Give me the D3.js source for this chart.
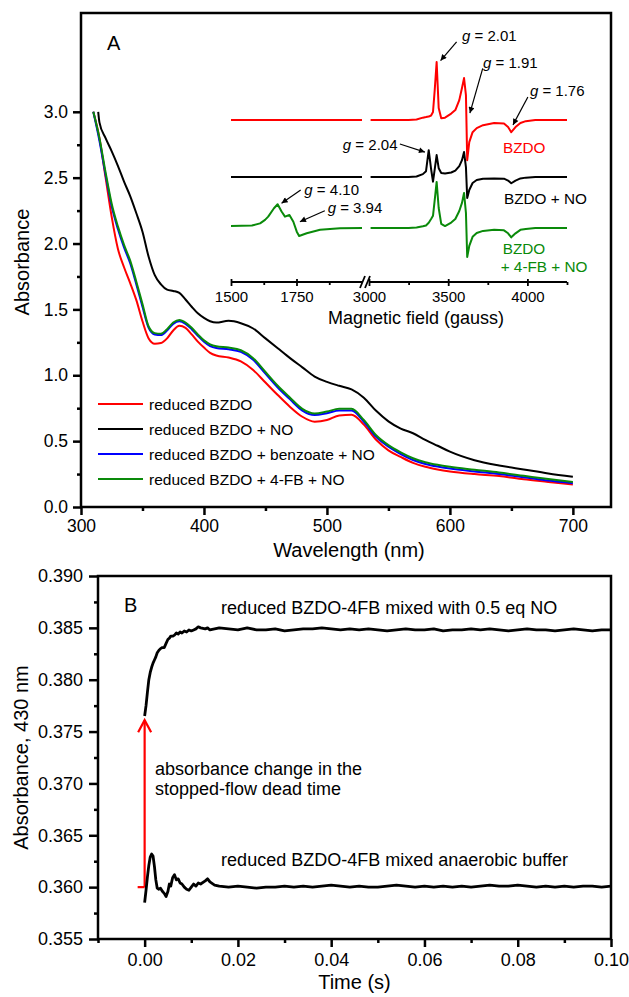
<!DOCTYPE html>
<html>
<head>
<meta charset="utf-8">
<script src="https://cdn.jsdelivr.net/npm/d3@7"></script>
<style>
  body { margin: 0; background: #fff; }
  text { font-family: "Liberation Sans", Arial, sans-serif; }
</style>
</head>
<body>
<div id="chart"></div>
<script>
// ---------- panel A : UV-vis spectra ----------
const wavelengths = [310, 315, 320, 325, 330, 335, 340, 345, 350, 355, 360, 365, 370, 375, 380, 385, 390, 395, 400, 405,
                     410, 420, 430, 440, 450, 460, 470, 480, 490, 500, 510, 520, 530, 540, 550, 560, 570, 580, 590, 600,
                     620, 640, 660, 680, 700];
const absReduced = [3.00, 2.80, 2.50, 2.20, 1.96, 1.82, 1.70, 1.57, 1.41, 1.28, 1.24, 1.245, 1.28, 1.34, 1.375, 1.36, 1.31, 1.255, 1.21, 1.17,
                    1.15, 1.135, 1.105, 1.04, 0.945, 0.85, 0.76, 0.685, 0.648, 0.66, 0.695, 0.70, 0.625, 0.51, 0.43, 0.38, 0.335, 0.305, 0.285, 0.27,
                    0.25, 0.235, 0.21, 0.19, 0.17];
const absBenzoate = [3.00, 2.78, 2.52, 2.28, 2.11, 1.97, 1.85, 1.69, 1.52, 1.36, 1.31, 1.305, 1.34, 1.39, 1.41, 1.39, 1.35, 1.30, 1.255, 1.222,
                     1.207, 1.197, 1.177, 1.117, 1.012, 0.907, 0.817, 0.732, 0.698, 0.712, 0.732, 0.732, 0.647, 0.532, 0.457, 0.402, 0.357, 0.327, 0.307, 0.292,
                     0.27, 0.25, 0.226, 0.201, 0.181];
const absFB = [3.00, 2.80, 2.54, 2.30, 2.13, 1.99, 1.87, 1.71, 1.54, 1.37, 1.32, 1.315, 1.35, 1.40, 1.42, 1.40, 1.36, 1.31, 1.265, 1.235,
               1.22, 1.21, 1.19, 1.13, 1.025, 0.92, 0.83, 0.745, 0.71, 0.725, 0.745, 0.745, 0.66, 0.545, 0.47, 0.415, 0.37, 0.34, 0.32, 0.305,
               0.283, 0.262, 0.237, 0.212, 0.19];
// the +NO spectrum starts a little later
const wavelengthsNO = [314, 315, 320, 325, 330, 335, 340, 345, 350, 355, 360, 365, 370, 375, 380, 385, 390, 395, 400, 405,
                       410, 420, 430, 440, 450, 460, 470, 480, 490, 500, 510, 520, 530, 540, 550, 560, 570, 580, 590, 600,
                       620, 640, 660, 680, 700];
const absNO = [3.00, 2.92, 2.80, 2.70, 2.59, 2.47, 2.36, 2.23, 2.09, 1.90, 1.76, 1.69, 1.65, 1.64, 1.625, 1.575, 1.52, 1.47, 1.435, 1.41,
               1.40, 1.413, 1.395, 1.355, 1.28, 1.205, 1.13, 1.06, 0.99, 0.95, 0.92, 0.893, 0.83, 0.73, 0.65, 0.595, 0.56, 0.51, 0.465, 0.42,
               0.355, 0.315, 0.285, 0.255, 0.23];
const legendLabels = ['reduced BZDO', 'reduced BZDO + NO', 'reduced BZDO + benzoate + NO', 'reduced BZDO + 4-FB + NO'];
const wavelengthTicks = [300, 400, 500, 600, 700];
const wavelengthMinor = [350, 450, 550, 650];
const absTicks = [0, 0.5, 1.0, 1.5, 2.0, 2.5, 3.0];
const absMinor = [0.25, 0.75, 1.25, 1.75, 2.25, 2.75];

// ---------- inset : EPR spectra (broken field axis) ----------
const fieldLow = [1500, 1580, 1611, 1630, 1642, 1664, 1678, 1693, 1706, 1723, 1738, 1751, 1760, 1789, 1840, 1916, 2000];
const eprFBLow = [0.7, 0.9, 1.7, 3.0, 4.2, 7.3, 8.8, 6.1, 4.2, 4.8, 2.3, -1.4, -3.0, -2.0, -0.7, -0.1, 0];
const fieldLowFlat = [1500, 2000];
const eprFlatLow = [0, 0];
const fieldHigh = [3010, 3250, 3300, 3340, 3360, 3377, 3392, 3404, 3415, 3427, 3440, 3456, 3480, 3519, 3545, 3570, 3587,
                   3600, 3612, 3620, 3633, 3654, 3680, 3720, 3790, 3852, 3878, 3898, 3925, 3956, 3990, 4050, 4250];
const eprBZDO = [0, 0, 0.2, 0.9, 1.1, 1.3, 1.7, 3.0, 11.2, 21.6, 4.5, 0.7, 0.9, 2.4, 3.7, 7.4, 11.9,
                 15.6, 9.3, -14.9, -8.2, -4.5, -3.0, -1.9, -1.1, -1.3, -2.6, -4.5, -2.6, -1.1, -0.4, 0, 0];
const eprNO = [0, 0, 0.2, 1.1, 2.2, 10.0, 3.0, -1.7, 3.0, 8.2, 3.3, 1.5, 1.3, 1.7, 2.4, 4.1, 6.3,
               9.3, 3.7, -7.8, -4.8, -2.2, -1.1, -0.6, -0.5, -0.6, -1.3, -2.3, -1.3, -0.5, -0.2, 0, 0];
const eprFB = [0, 0, 0.2, 0.6, 0.9, 1.9, 3.3, 4.5, 10.4, 17.1, 7.4, 1.5, 0.7, 2.0, 3.3, 6.3, 9.3,
               13.0, 5.6, -10.8, -6.7, -3.3, -1.9, -1.1, -0.7, -0.9, -2.0, -3.5, -2.0, -0.7, -0.4, 0, 0];
const eprOffsets = [60.2, 39.0, 20.1];   // BZDO, BZDO + NO, BZDO + 4-FB + NO
const fieldTicksLow = [1500, 1750];
const fieldMinorLow = [1625, 1875];
const fieldTicksHigh = [3000, 3500, 4000];
const fieldMinorHigh = [3250, 3750, 4250];

// ---------- panel B : stopped-flow traces at 430 nm ----------
const times = [0, 0.0003, 0.0006, 0.0009, 0.0012, 0.0015, 0.0018, 0.0021, 0.0024, 0.0027, 0.0030, 0.0034, 0.0038, 0.0042,
               0.0046, 0.0050, 0.0053, 0.0056, 0.0060, 0.0064, 0.0068, 0.0072, 0.0076, 0.0080, 0.0085, 0.0090, 0.0095,
               0.0100, 0.0105, 0.0110, 0.0115, 0.0120, 0.0130, 0.0135, 0.0140, 0.0150, 0.0160,
               0.018, 0.020, 0.022, 0.024, 0.026, 0.028, 0.030, 0.032, 0.034, 0.036, 0.038, 0.040, 0.042, 0.044,
               0.046, 0.048, 0.050, 0.052, 0.054, 0.056, 0.058, 0.060, 0.062, 0.064, 0.066, 0.068, 0.070, 0.072,
               0.074, 0.076, 0.078, 0.080, 0.082, 0.084, 0.086, 0.088, 0.090, 0.092, 0.094, 0.096, 0.098, 0.100];
const absWithNO = [0.3765, 0.3775, 0.3788, 0.3800, 0.3807, 0.3812, 0.3816, 0.3819, 0.3822, 0.3826, 0.3828, 0.3830, 0.3831, 0.3831,
                   0.3835, 0.3839, 0.3840, 0.3842, 0.3842, 0.3843, 0.3845, 0.3844, 0.3846, 0.3845, 0.3847, 0.3846, 0.3848,
                   0.3847, 0.3848, 0.3849, 0.3851, 0.3850, 0.3849, 0.3850, 0.3848, 0.3849, 0.3850,
                   0.3849, 0.3848, 0.3850, 0.3848, 0.3848, 0.3849, 0.3847, 0.3848, 0.3849, 0.3849, 0.3850, 0.3849, 0.3848, 0.3849,
                   0.3848, 0.3849, 0.3848, 0.3847, 0.3848, 0.3849, 0.3848, 0.3848, 0.3849, 0.3847, 0.3848, 0.3848, 0.3849, 0.3848,
                   0.3849, 0.3848, 0.3847, 0.3848, 0.3849, 0.3848, 0.3848, 0.3847, 0.3848, 0.3849, 0.3848, 0.3847, 0.3848, 0.3848];
const absBuffer = [0.3585, 0.3597, 0.3610, 0.3621, 0.3629, 0.3632, 0.3630, 0.3620, 0.3607, 0.3599, 0.3598, 0.3599, 0.3596, 0.3594,
                   0.3591, 0.3596, 0.3603, 0.3601, 0.3609, 0.3612, 0.3607, 0.3608, 0.3604, 0.3603, 0.3600, 0.3598, 0.3597,
                   0.3600, 0.3603, 0.3601, 0.3604, 0.3603, 0.3606, 0.3608, 0.3605, 0.3602, 0.3601,
                   0.3600, 0.3601, 0.3600, 0.3599, 0.3600, 0.3600, 0.3601, 0.3600, 0.3601, 0.3600, 0.3601, 0.3602, 0.3601, 0.3600,
                   0.3601, 0.3600, 0.3600, 0.3601, 0.3602, 0.3601, 0.3600, 0.3601, 0.3600, 0.3601, 0.3600, 0.3601, 0.3600, 0.3601,
                   0.3602, 0.3601, 0.3601, 0.3602, 0.3601, 0.3600, 0.3601, 0.3600, 0.3601, 0.3600, 0.3601, 0.3601, 0.3600, 0.3601];
const deadTimeStart = 0.3600;   // absorbance before mixing
const deadTimeEnd = 0.3761;     // first observed point with NO
const timeTicks = [0.00, 0.02, 0.04, 0.06, 0.08, 0.10];
const timeMinor = [-0.01, 0.01, 0.03, 0.05, 0.07, 0.09];
const abs430Ticks = [0.355, 0.360, 0.365, 0.370, 0.375, 0.380, 0.385, 0.390];
const abs430Minor = [0.3575, 0.3625, 0.3675, 0.3725, 0.3775, 0.3825, 0.3875];

const FONT = '"Liberation Sans", Arial, sans-serif';
const width = 629, height = 997;

let svg = d3.select('#chart')
            .append('svg')
            .attr('width', width)
            .attr('height', height)
            .style('background', 'white');

// arrowhead used by the g-value labels
svg.append('defs').append('marker')
    .attr('id', 'head')
    .attr('viewBox', '0 0 10 10')
    .attr('refX', 10).attr('refY', 5)
    .attr('markerWidth', 8).attr('markerHeight', 6)
    .attr('markerUnits', 'userSpaceOnUse')
    .attr('orient', 'auto')
    .append('path').attr('d', 'M0,0 L10,5 L0,10 z').attr('fill', '#000');

// common axis look
function styleAxis(g, size, width) {
    g.select('.domain').remove();
    g.selectAll('line').attr('stroke', '#000').attr('stroke-width', width);
    g.selectAll('text').attr('fill', '#000').style('font-size', size + 'px').style('font-family', FONT);
}

// ================= panel A =================
let mA = {top: 13, bottom: 507, left: 81, right: 611};

let xA = d3.scaleLinear().domain([300, 731]).range([mA.left, mA.right]);
let yA = d3.scaleLinear().domain([0, 3.75]).range([mA.bottom, mA.top]);

svg.append('g').attr('transform', `translate(0, ${mA.bottom})`)
    .call(d3.axisBottom(xA).tickValues(wavelengthTicks).tickSize(8).tickPadding(5).tickFormat(d3.format('d')))
    .call(g => styleAxis(g, 17.5, 2.5));
svg.append('g').attr('transform', `translate(0, ${mA.bottom})`)
    .call(d3.axisBottom(xA).tickValues(wavelengthMinor).tickSize(4).tickFormat(''))
    .call(g => styleAxis(g, 17.5, 2.5));
svg.append('g').attr('transform', `translate(${mA.left}, 0)`)
    .call(d3.axisLeft(yA).tickValues(absTicks).tickSize(8).tickPadding(5).tickFormat(d3.format('.1f')))
    .call(g => styleAxis(g, 17.5, 2.5));
svg.append('g').attr('transform', `translate(${mA.left}, 0)`)
    .call(d3.axisLeft(yA).tickValues(absMinor).tickSize(4).tickFormat(''))
    .call(g => styleAxis(g, 17.5, 2.5));

svg.append('rect')
    .attr('x', mA.left).attr('y', mA.top)
    .attr('width', mA.right - mA.left).attr('height', mA.bottom - mA.top)
    .attr('fill', 'none').attr('stroke', '#000').attr('stroke-width', 2.5);

// axis titles
svg.append('text')
    .attr('x', (mA.left + mA.right) / 2 + 3).attr('y', 557)
    .attr('text-anchor', 'middle').style('font-size', '20px')
    .text('Wavelength (nm)');
svg.append('text')
    .attr('transform', 'rotate(-90)')
    .attr('x', -262).attr('y', 29)
    .attr('text-anchor', 'middle').style('font-size', '20px')
    .text('Absorbance');
svg.append('text')
    .attr('x', 107).attr('y', 50)
    .style('font-size', '20px')
    .text('A');

// spectra (smooth through the read-off points)
let lineA = d3.line().curve(d3.curveMonotoneX).x(d => xA(d[0])).y(d => yA(d[1]));
let spectra = [
    {wl: wavelengthsNO, abs: absNO, color: '#000000'},
    {wl: wavelengths, abs: absReduced, color: '#ff0000'},
    {wl: wavelengths, abs: absBenzoate, color: '#0000ff'},
    {wl: wavelengths, abs: absFB, color: '#0a8a0a'}
];
spectra.forEach(function(s) {
    svg.append('path')
        .datum(d3.zip(s.wl, s.abs))
        .attr('d', lineA)
        .attr('fill', 'none')
        .attr('stroke', s.color)
        .attr('stroke-width', 2)
        .attr('stroke-linejoin', 'round');
});

// legend
let legendColors = ['#ff0000', '#000000', '#0000ff', '#0a8a0a'];
let legend = svg.append('g').attr('transform', 'translate(98, 404)');
let legendItem = legend.selectAll('g')
    .data(legendLabels)
    .enter()
    .append('g')
    .attr('transform', (d, i) => `translate(0, ${i * 25})`);
legendItem.append('line')
    .attr('x1', 0).attr('x2', 45).attr('y1', 0).attr('y2', 0)
    .attr('stroke', (d, i) => legendColors[i]).attr('stroke-width', 2);
legendItem.append('text')
    .attr('x', 51).attr('y', 6)
    .style('font-size', '15.5px')
    .text(d => d);

// ================= inset: EPR =================
let xLow = d3.scaleLinear().domain([1500, 2000]).range([231, 362]);
let xHigh = d3.scaleLinear().domain([3000, 4250]).range([369, 567]);
let yE = d3.scaleLinear().domain([0, 100]).range([282, 13]);
let axisY = yE(0);

function insetAxis(scale, major, minor) {
    svg.append('line')
        .attr('x1', scale.range()[0]).attr('x2', scale.range()[1])
        .attr('y1', axisY).attr('y2', axisY)
        .attr('stroke', '#000').attr('stroke-width', 1.8);
    svg.append('g').attr('transform', `translate(0, ${axisY})`)
        .call(d3.axisBottom(scale).tickValues(major).tickSize(4).tickPadding(5).tickFormat(d3.format('d')))
        .call(g => styleAxis(g, 15, 1.8))
        .call(g => g.selectAll('line').attr('y1', -3));
    svg.append('g').attr('transform', `translate(0, ${axisY})`)
        .call(d3.axisBottom(scale).tickValues(minor).tickSize(3).tickFormat(''))
        .call(g => styleAxis(g, 15, 1.8));
}
insetAxis(xLow, fieldTicksLow, fieldMinorLow);
insetAxis(xHigh, fieldTicksHigh, fieldMinorHigh);

// axis break marks
let gapMid = (xLow(2000) + xHigh(3000)) / 2;
[-3, 2].forEach(function(dx) {
    svg.append('line')
        .attr('x1', gapMid + dx - 2.5).attr('y1', axisY + 6)
        .attr('x2', gapMid + dx + 2.5).attr('y2', axisY - 6)
        .attr('stroke', '#000').attr('stroke-width', 1.8);
});

svg.append('text')
    .attr('x', 416).attr('y', 323.5)
    .attr('text-anchor', 'middle').style('font-size', '18px')
    .text('Magnetic field (gauss)');

let eprColors = ['#ff0000', '#000000', '#0a8a0a'];
let eprHigh = [eprBZDO, eprNO, eprFB];
let eprLow = [[fieldLowFlat, eprFlatLow], [fieldLowFlat, eprFlatLow], [fieldLow, eprFBLow]];
eprHigh.forEach(function(sig, i) {
    let off = eprOffsets[i];
    let lineLow = d3.line().x(d => xLow(d[0])).y(d => yE(d[1] + off));
    let lineHigh = d3.line().x(d => xHigh(d[0])).y(d => yE(d[1] + off));
    svg.append('path')
        .datum(d3.zip(eprLow[i][0], eprLow[i][1]))
        .attr('d', lineLow)
        .attr('fill', 'none').attr('stroke', eprColors[i]).attr('stroke-width', 2)
        .attr('stroke-linejoin', 'round');
    svg.append('path')
        .datum(d3.zip(fieldHigh, sig))
        .attr('d', lineHigh)
        .attr('fill', 'none').attr('stroke', eprColors[i]).attr('stroke-width', 2)
        .attr('stroke-linejoin', 'round');
});

// g-value labels (anchored in field / intensity units)
let gLabels = [
    {g: '2.01', f: 3587, v: 89.7, tail: [3553, 89.3], head: [3452, 82.3]},
    {g: '1.91', f: 3720, v: 79.7, tail: [3718, 79.4], head: [3637, 62.8]},
    {g: '1.76', f: 4016, v: 69.0, tail: [4003, 68.8], head: [3909, 58.4]},
    {g: '2.04', f: 1927, v: 48.9, tail: [3195, 51.3], head: [3353, 48.3]},
    {g: '4.10', f: 1780, v: 32.3, tail: [1766, 34.2], head: [1693, 29.3]},
    {g: '3.94', f: 1869, v: 25.5, tail: [1858, 26.5], head: [1763, 22.4]}
];
let xField = f => (f >= 2500 ? xHigh(f) : xLow(f));
gLabels.forEach(function(l) {
    let t = svg.append('text')
        .attr('x', xField(l.f)).attr('y', yE(l.v))
        .style('font-size', '15px');
    t.append('tspan').style('font-style', 'italic').text('g');
    t.append('tspan').text(' = ' + l.g);
    svg.append('line')
        .attr('x1', xField(l.tail[0])).attr('y1', yE(l.tail[1]))
        .attr('x2', xField(l.head[0])).attr('y2', yE(l.head[1]))
        .attr('stroke', '#000').attr('stroke-width', 1.2)
        .attr('marker-end', 'url(#head)');
});

let sampleLabels = [
    {lines: ['BZDO'], f: 3846, v: 48.1, color: '#ff0000'},
    {lines: ['BZDO + NO'], f: 3852, v: 29.0, color: '#000000'},
    {lines: ['BZDO', '+ 4-FB + NO'], f: 3844, v: 10.4, color: '#0a8a0a'}
];
sampleLabels.forEach(function(l) {
    let t = svg.append('text')
        .attr('x', xHigh(l.f)).attr('y', yE(l.v))
        .attr('fill', l.color)
        .style('font-size', '15.3px');
    l.lines.forEach(function(s, i) {
        t.append('tspan')
            .attr('x', xHigh(l.f) - (i ? 2 : 0))
            .attr('dy', i ? '1.2em' : 0)
            .text(s);
    });
});

// ================= panel B =================
let mB = {top: 576, bottom: 939, left: 98, right: 611};

let xB = d3.scaleLinear().domain([-0.01, 0.10]).range([mB.left, mB.right]);
let yB = d3.scaleLinear().domain([0.355, 0.390]).range([mB.bottom, mB.top]);

svg.append('g').attr('transform', `translate(0, ${mB.bottom})`)
    .call(d3.axisBottom(xB).tickValues(timeTicks).tickSize(8).tickPadding(6).tickFormat(d3.format('.2f')))
    .call(g => styleAxis(g, 18, 2.5));
svg.append('g').attr('transform', `translate(0, ${mB.bottom})`)
    .call(d3.axisBottom(xB).tickValues(timeMinor).tickSize(4).tickFormat(''))
    .call(g => styleAxis(g, 18, 2.5));
svg.append('g').attr('transform', `translate(${mB.left}, 0)`)
    .call(d3.axisLeft(yB).tickValues(abs430Ticks).tickSize(9).tickPadding(6).tickFormat(d3.format('.3f')))
    .call(g => styleAxis(g, 18, 2.5));
svg.append('g').attr('transform', `translate(${mB.left}, 0)`)
    .call(d3.axisLeft(yB).tickValues(abs430Minor).tickSize(4).tickFormat(''))
    .call(g => styleAxis(g, 18, 2.5));

svg.append('rect')
    .attr('x', mB.left).attr('y', mB.top)
    .attr('width', mB.right - mB.left).attr('height', mB.bottom - mB.top)
    .attr('fill', 'none').attr('stroke', '#000').attr('stroke-width', 2.5);

svg.append('text')
    .attr('x', (mB.left + mB.right) / 2).attr('y', 989)
    .attr('text-anchor', 'middle').style('font-size', '20px')
    .text('Time (s)');
svg.append('text')
    .attr('transform', 'rotate(-90)')
    .attr('x', -(mB.top + mB.bottom) / 2).attr('y', 28)
    .attr('text-anchor', 'middle').style('font-size', '20px')
    .text('Absorbance, 430 nm');
svg.append('text')
    .attr('x', 124).attr('y', 611.5)
    .style('font-size', '20px')
    .text('B');

// dead-time arrow (red)
let x0 = xB(0);
svg.append('line')
    .attr('x1', xB(-0.0015)).attr('x2', x0)
    .attr('y1', yB(deadTimeStart)).attr('y2', yB(deadTimeStart))
    .attr('stroke', '#ff0000').attr('stroke-width', 2.2);
svg.append('line')
    .attr('x1', x0).attr('x2', x0)
    .attr('y1', yB(deadTimeStart)).attr('y2', yB(deadTimeEnd))
    .attr('stroke', '#ff0000').attr('stroke-width', 2.2);
svg.append('path')
    .attr('d', `M${x0 - 6.5},${yB(deadTimeEnd) + 12} L${x0},${yB(deadTimeEnd)} L${x0 + 6.5},${yB(deadTimeEnd) + 12}`)
    .attr('fill', 'none').attr('stroke', '#ff0000').attr('stroke-width', 2.2);

// kinetic traces
let lineB = d3.line().x(d => xB(d[0])).y(d => yB(d[1]));
[absWithNO, absBuffer].forEach(function(a) {
    svg.append('path')
        .datum(d3.zip(times, a))
        .attr('d', lineB)
        .attr('fill', 'none').attr('stroke', '#000').attr('stroke-width', 2.8)
        .attr('stroke-linejoin', 'round');
});

// annotations
svg.append('text')
    .attr('x', xB(0.0164)).attr('y', yB(0.38631))
    .style('font-size', '18px')
    .text('reduced BZDO-4FB mixed with 0.5 eq NO');
svg.append('text')
    .attr('x', xB(0.0164)).attr('y', yB(0.36204))
    .style('font-size', '18px')
    .text('reduced BZDO-4FB mixed anaerobic buffer');
let note = svg.append('text')
    .attr('x', xB(0.0022)).attr('y', yB(0.37082))
    .style('font-size', '18px');
note.append('tspan').attr('x', xB(0.0022)).text('absorbance change in the');
note.append('tspan').attr('x', xB(0.0022)).attr('dy', 20).text('stopped-flow dead time');
</script>
</body>
</html>
